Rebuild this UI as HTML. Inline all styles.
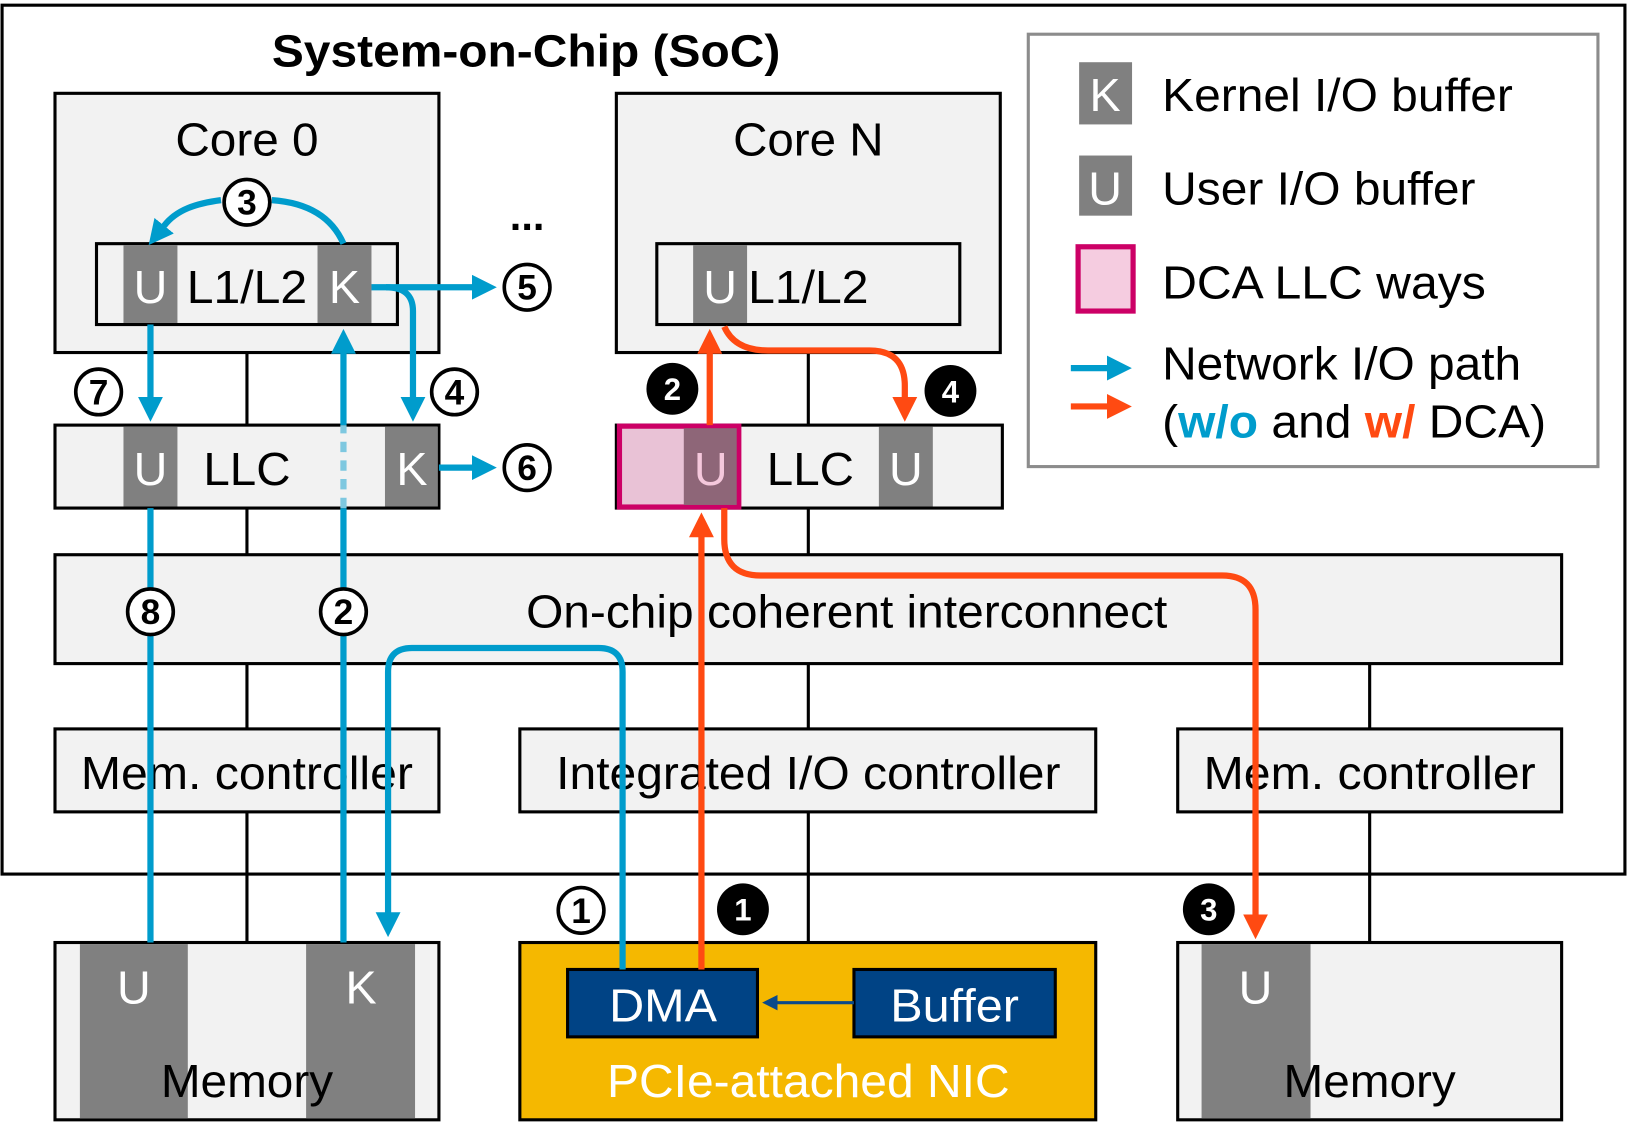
<!DOCTYPE html>
<html><head><meta charset="utf-8"><style>
html,body{margin:0;padding:0;background:#fff;}
svg{display:block;}
text{font-family:"Liberation Sans",sans-serif;}
</style></head><body>
<svg width="1627" height="1125" viewBox="0 0 1568 1085" preserveAspectRatio="none" xmlns="http://www.w3.org/2000/svg">
<defs>
<marker id="ab" markerWidth="4" markerHeight="4" refX="2.2" refY="2" orient="auto" markerUnits="strokeWidth"><path d="M0,0 L4,2 L0,4 Z" fill="#009ccc"/></marker>
<marker id="ao" markerWidth="4" markerHeight="4" refX="2.2" refY="2" orient="auto" markerUnits="strokeWidth"><path d="M0,0 L4,2 L0,4 Z" fill="#ff4a12"/></marker>
<marker id="an" markerWidth="5" markerHeight="5" refX="2.5" refY="2.5" orient="auto" markerUnits="strokeWidth"><path d="M0,0 L5,2.5 L0,5 Z" fill="#0b4a8a"/></marker>
</defs>
<rect x="2" y="5" width="1564" height="838" fill="#fff" stroke="#000" stroke-width="3"/>
<text x="262" y="64" font-size="44" font-weight="bold" textLength="490" lengthAdjust="spacingAndGlyphs">System-on-Chip (SoC)</text>
<g stroke="#000" stroke-width="3">
<line x1="238" y1="340" x2="238" y2="410"/><line x1="238" y1="490" x2="238" y2="535"/><line x1="238" y1="640" x2="238" y2="703"/><line x1="238" y1="783" x2="238" y2="909"/>
<line x1="779" y1="340" x2="779" y2="410"/><line x1="779" y1="490" x2="779" y2="535"/><line x1="779" y1="640" x2="779" y2="703"/><line x1="779" y1="783" x2="779" y2="909"/>
<line x1="1320" y1="640" x2="1320" y2="703"/><line x1="1320" y1="783" x2="1320" y2="909"/>
</g>
<g stroke="#000" stroke-width="3" fill="#f2f2f2">
<rect x="53" y="90" width="370" height="250"/>
<rect x="594" y="90" width="370" height="250"/>
<rect x="93" y="235" width="290" height="78"/>
<rect x="633" y="235" width="292" height="78"/>
<rect x="53" y="410" width="370" height="80"/>
<rect x="594" y="410" width="372" height="80"/>
<rect x="53" y="535" width="1452" height="105"/>
<rect x="53" y="703" width="370" height="80"/>
<rect x="501" y="703" width="555" height="80"/>
<rect x="1135" y="703" width="370" height="80"/>
<rect x="53" y="909" width="370" height="171"/>
<rect x="1135" y="909" width="370" height="171"/>
</g>
<g fill="#808080">
<rect x="119" y="236.5" width="52" height="75"/><rect x="306" y="236.5" width="52" height="75"/>
<rect x="668" y="236.5" width="52" height="75"/>
<rect x="119" y="411.5" width="52" height="77"/><rect x="371" y="411.5" width="51" height="77"/>
<rect x="847" y="411.5" width="52" height="77"/>
<rect x="77" y="910.5" width="104" height="168"/><rect x="295" y="910.5" width="105" height="168"/>
<rect x="1158" y="910.5" width="105" height="168"/>
</g>
<rect x="597" y="411" width="115" height="78" fill="#e9c2d6" stroke="#cc0066" stroke-width="5"/>
<rect x="659" y="413" width="51" height="74" fill="#8e6678"/>
<g font-size="45" text-anchor="middle">
<text x="238" y="150" textLength="138" lengthAdjust="spacingAndGlyphs">Core 0</text>
<text x="779" y="150" textLength="145" lengthAdjust="spacingAndGlyphs">Core N</text>
<text x="145" y="292" fill="#fff">U</text><text x="238" y="292" textLength="116" lengthAdjust="spacingAndGlyphs">L1/L2</text><text x="332" y="292" fill="#fff">K</text>
<text x="694" y="292" fill="#fff">U</text><text x="779" y="292" textLength="116" lengthAdjust="spacingAndGlyphs">L1/L2</text>
<text x="145" y="468" fill="#fff">U</text><text x="238" y="468" textLength="84" lengthAdjust="spacingAndGlyphs">LLC</text><text x="397" y="468" fill="#fff">K</text>
<text x="685" y="468" fill="#f5c8dc">U</text><text x="781" y="468" textLength="84" lengthAdjust="spacingAndGlyphs">LLC</text><text x="873" y="468" fill="#fff">U</text>
<text x="816" y="605" textLength="618" lengthAdjust="spacingAndGlyphs">On-chip coherent interconnect</text>
<text x="238" y="761" textLength="320" lengthAdjust="spacingAndGlyphs">Mem. controller</text>
<text x="779" y="761" textLength="486" lengthAdjust="spacingAndGlyphs">Integrated I/O controller</text>
<text x="1320" y="761" textLength="320" lengthAdjust="spacingAndGlyphs">Mem. controller</text>
<text x="129" y="968" fill="#fff">U</text><text x="348" y="968" fill="#fff">K</text><text x="238" y="1058" textLength="166" lengthAdjust="spacingAndGlyphs">Memory</text>
<text x="1210" y="968" fill="#fff">U</text><text x="1320" y="1058" textLength="166" lengthAdjust="spacingAndGlyphs">Memory</text>
</g>
<text x="508" y="222" font-size="40" font-weight="bold" text-anchor="middle">...</text>
<rect x="501" y="909" width="555" height="171" fill="#f5b800" stroke="#000" stroke-width="3"/>
<rect x="547" y="935" width="183" height="65" fill="#004385" stroke="#000" stroke-width="3"/>
<rect x="823" y="935" width="194" height="65" fill="#004385" stroke="#000" stroke-width="3"/>
<line x1="823" y1="967" x2="742" y2="967" stroke="#0b4a8a" stroke-width="3" marker-end="url(#an)"/>
<g font-size="45" text-anchor="middle" fill="#fff">
<text x="639" y="985" textLength="104" lengthAdjust="spacingAndGlyphs">DMA</text><text x="920" y="985" textLength="124" lengthAdjust="spacingAndGlyphs">Buffer</text><text x="779" y="1058" textLength="388" lengthAdjust="spacingAndGlyphs">PCIe-attached NIC</text>
</g>
<g stroke="#009ccc" stroke-width="6" fill="none">
<path d="M145 313 V396" marker-end="url(#ab)"/>
<path d="M145 490 V568 M145 612 V909"/>
<path d="M331 909 V612 M331 568 V490"/>
<path d="M331 490 V410" stroke="#7ec8e0" stroke-dasharray="10 8"/>
<path d="M331 410 V328" marker-end="url(#ab)"/>
<path d="M331 235 C318 205 290 195 262 193 M213 193 C190 196 170 202 158 218" />
<path d="M358 277 H468" marker-end="url(#ab)"/>
<path d="M372 277 Q398 277 398 300 V396" marker-end="url(#ab)"/>
<path d="M423 451 H468" marker-end="url(#ab)"/>
<path d="M600 935 V648 Q600 625 577 625 H397 Q374 625 374 648 V893" marker-end="url(#ab)"/>
</g>
<path d="M158 218 L150 228" stroke="#009ccc" stroke-width="6" marker-end="url(#ab)"/>
<g stroke="#ff4a12" stroke-width="6" fill="none">
<path d="M676 935 V505" marker-end="url(#ao)"/>
<path d="M684 410 V328" marker-end="url(#ao)"/>
<path d="M698 315 Q708 338 740 338 H838 Q872 338 872 372 V396" marker-end="url(#ao)"/>
<path d="M698 490 V520 Q698 555 733 555 H1178 Q1210 555 1210 588 V895" marker-end="url(#ao)"/>
</g>
<g stroke="#000" stroke-width="3.5" fill="#fff">
<circle cx="238" cy="195" r="22"/><circle cx="508" cy="277" r="22"/><circle cx="438" cy="378" r="22"/>
<circle cx="95" cy="378" r="22"/><circle cx="508" cy="451" r="22"/><circle cx="145" cy="590" r="22"/>
<circle cx="331" cy="590" r="22"/><circle cx="560" cy="878" r="22"/>
</g>
<g font-size="34" font-weight="bold" text-anchor="middle">
<text x="238" y="207">3</text><text x="508" y="289">5</text><text x="438" y="390">4</text>
<text x="95" y="390">7</text><text x="508" y="463">6</text><text x="145" y="602">8</text>
<text x="331" y="602">2</text><text x="560" y="890">1</text>
</g>
<g fill="#000"><circle cx="648" cy="375" r="25"/><circle cx="916" cy="377" r="25"/><circle cx="716" cy="877" r="25"/><circle cx="1165" cy="877" r="25"/></g>
<g font-size="30" font-weight="bold" text-anchor="middle" fill="#fff">
<text x="648" y="386">2</text><text x="916" y="388">4</text><text x="716" y="888">1</text><text x="1165" y="888">3</text>
</g>
<rect x="991" y="33" width="549" height="417" fill="#fff" stroke="#8c8c8c" stroke-width="3"/>
<rect x="1040" y="60" width="51" height="60" fill="#808080"/>
<rect x="1040" y="150" width="51" height="58" fill="#808080"/>
<rect x="1039" y="238" width="53" height="62" fill="#f5cce0" stroke="#cc0066" stroke-width="5"/>
<g font-size="45">
<text x="1065" y="107" fill="#fff" text-anchor="middle">K</text>
<text x="1065" y="197" fill="#fff" text-anchor="middle">U</text>
<text x="1120" y="107" textLength="338" lengthAdjust="spacingAndGlyphs">Kernel I/O buffer</text>
<text x="1120" y="197" textLength="302" lengthAdjust="spacingAndGlyphs">User I/O buffer</text>
<text x="1120" y="288" textLength="312" lengthAdjust="spacingAndGlyphs">DCA LLC ways</text>
<text x="1120" y="366" textLength="346" lengthAdjust="spacingAndGlyphs">Network I/O path</text>
<text x="1120" y="422" textLength="370" lengthAdjust="spacingAndGlyphs">(<tspan fill="#009ccc" font-weight="bold">w/o</tspan> and <tspan fill="#ff4a12" font-weight="bold">w/</tspan> DCA)</text>
</g>
<line x1="1032" y1="355" x2="1080" y2="355" stroke="#009ccc" stroke-width="6" marker-end="url(#ab)"/>
<line x1="1032" y1="392" x2="1080" y2="392" stroke="#ff4a12" stroke-width="6" marker-end="url(#ao)"/>
</svg>
</body></html>
